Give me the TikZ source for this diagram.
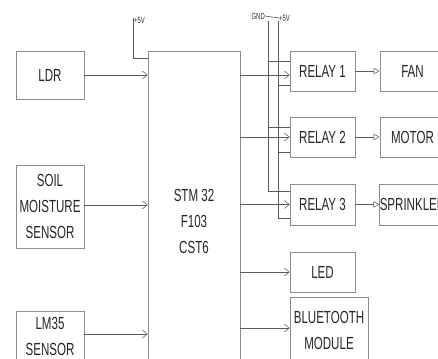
\documentclass[tikz,border=0pt]{standalone}
\usepackage{fontspec}
\setmainfont{Liberation Sans}[FakeStretch=0.66]
\usetikzlibrary{arrows.meta}
\begin{document}
\begin{tikzpicture}[x=1pt,y=-1pt,
  box/.style={draw=black!45, line width=0.6pt, rectangle, inner sep=0pt, align=center,
    text=black!85, font=\fontsize{17.5}{26}\selectfont},
  wire/.style={draw=black!65, line width=0.6pt},
  arr/.style={wire, -{Straight Barb[length=5pt,width=8pt,line width=0.5pt]}},
  tarr/.style={wire, -{Triangle[open,length=6pt,width=6pt,line width=0.5pt]}},
  lbl/.style={inner sep=0pt, text=black!80, font=\fontsize{9}{10}\selectfont}]
\useasboundingbox (0,0) rectangle (438,358);
\clip (0,0) rectangle (438,358);
\fill[white] (0,0) rectangle (438,358);
% input boxes
\node[box, minimum width=68pt, minimum height=48pt] (ldr) at (50,75) {LDR};
\node[box, minimum width=68pt, minimum height=83pt] (soil) at (50,206.5) {SOIL\\MOISTURE\\SENSOR};
\node[box, minimum width=68pt, minimum height=51pt] (lm35) at (50,336.5) {LM35\\SENSOR};
% controller
\node[box, minimum width=92pt, minimum height=340pt] (stm) at (194,221) {STM 32\\F103\\CST6};
% relays
\node[box, minimum width=65pt, minimum height=40pt] (relay1) at (322.5,71) {RELAY 1};
\node[box, minimum width=65pt, minimum height=40pt] (relay2) at (322.5,137) {RELAY 2};
\node[box, minimum width=65pt, minimum height=41pt] (relay3) at (322.5,204.5) {RELAY 3};
\node[box, minimum width=65pt, minimum height=40pt] (led) at (322.5,272) {LED};
\node[box, minimum width=78pt, minimum height=66pt] (bt) at (329,330) {BLUETOOTH\\MODULE};
% loads
\node[box, minimum width=65pt, minimum height=40pt] (fan) at (412.5,71) {FAN};
\node[box, minimum width=65pt, minimum height=40pt] (motor) at (412.5,137) {MOTOR};
\node[box, minimum width=65pt, minimum height=41pt] (spr) at (412.5,204.5) {SPRINKLER};
% supply labels
\node[lbl, anchor=west] (v5a) at (134,20) {+5V};
\node[lbl, anchor=east] (gnd) at (265,16) {GND};
\node[lbl, anchor=west] (v5b) at (279,18) {+5V};
\coordinate (s5) at (133,18);
\coordinate (gA) at (268,21);
\coordinate (gB) at (278,21);
\draw[wire] (gnd.east) -- (v5b.west);
\draw[wire] (s5) |- (stm.west |- 0,58);
% relay supply wires
\draw[wire] (gA) |- (relay3.west |- 0,191);
\draw[wire] (gB) |- (relay3.west |- 0,218);
\draw[wire] (gA |- 0,61) -- (relay1.west |- 0,61);
\draw[wire] (gB |- 0,85) -- (relay1.west |- 0,85);
\draw[wire] (gA |- 0,127) -- (relay2.west |- 0,127);
\draw[wire] (gB |- 0,152) -- (relay2.west |- 0,152);
% sensor inputs
\draw[arr] (ldr.east) -- (ldr.east -| stm.west);
\draw[arr] (soil.east |- 0,205) -- (stm.west |- 0,205);
\draw[arr] (lm35.east |- 0,334) -- (stm.west |- 0,334);
% outputs
\draw[arr] (stm.east |- 0,75) -- (relay1.west |- 0,75);
\draw[arr] (relay2.west -| stm.east) -- (relay2.west);
\draw[arr] (relay3.west -| stm.east) -- (relay3.west);
\draw[arr] (led.west -| stm.east) -- (led.west);
\draw[arr] (stm.east |- 0,328) -- (bt.west |- 0,328);
% relay to load
\draw[tarr] (relay1.east) -- (fan.west);
\draw[tarr] (relay2.east) -- (motor.west);
\draw[tarr] (relay3.east) -- (spr.west);
\end{tikzpicture}
\end{document}
